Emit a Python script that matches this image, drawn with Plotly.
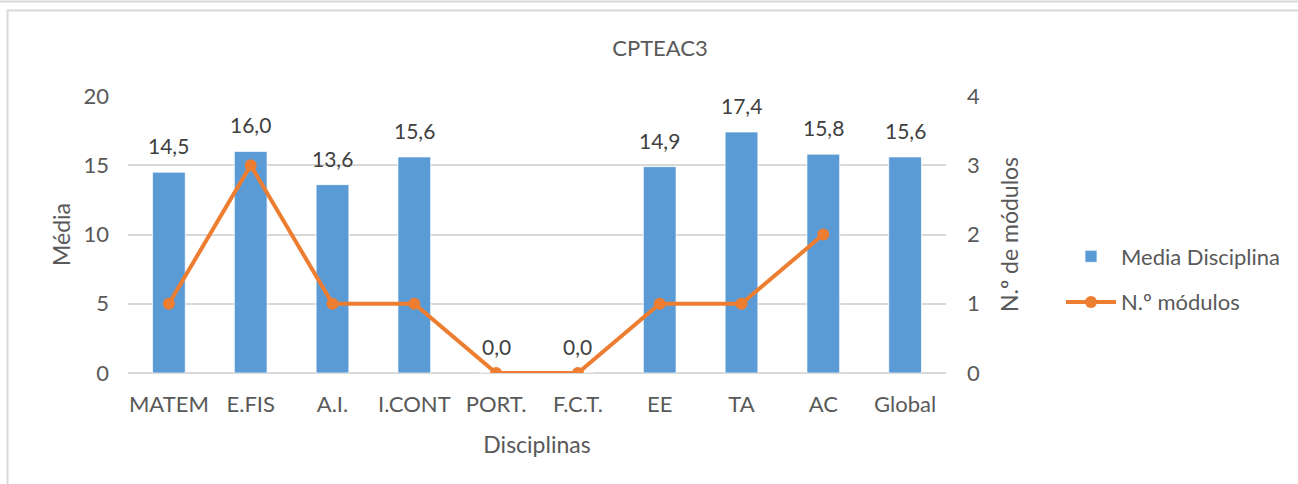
import plotly.graph_objects as go

categories = ["MATEM", "E.FIS", "A.I.", "I.CONT", "PORT.", "F.C.T.", "EE", "TA", "AC", "Global"]
media = [14.5, 16.0, 13.6, 15.6, 0.0, 0.0, 14.9, 17.4, 15.8, 15.6]
modulos = [1, 3, 1, 1, 0, 0, 1, 1, 2, None]

FONT = "Lato"
TXT = "#595959"
BLUE = "#5B9BD5"
ORANGE = "#ED7D31"
GRID = "#D9D9D9"

fig = go.Figure()
fig.add_trace(go.Bar(
    x=categories, y=media, name="Media Disciplina", legendgroup="a",
    marker=dict(color=BLUE, line=dict(color="rgba(255,255,255,0.7)", width=1)),
    width=0.4, yaxis="y",
))
fig.add_trace(go.Scatter(
    x=categories, y=modulos, name="N.º módulos", yaxis="y2", legendgroup="b",
    mode="lines+markers", line=dict(color=ORANGE, width=4),
    marker=dict(color=ORANGE, size=12), connectgaps=False,
))

annotations = []
for c, v in zip(categories, media):
    annotations.append(dict(
        x=c, y=v, xref="x", yref="y", text=f"{v:.1f}".replace(".", ","),
        showarrow=False, yanchor="bottom", yshift=12,
        font=dict(family=FONT, size=21, color="#404040"),
    ))

L, R, T, B = 128, 946, 96, 373
W, H = 1298, 484
def px(x):
    return (x - L) / (R - L)
def py(y):
    return (B - y) / (B - T)

shapes = [
    dict(type="line", xref="paper", yref="paper", x0=px(-5), x1=px(1310), y0=py(1.5), y1=py(1.5),
         line=dict(color=GRID, width=2)),
    dict(type="rect", xref="paper", yref="paper", x0=px(7.5), x1=px(1320), y0=py(10.5), y1=py(500),
         line=dict(color=GRID, width=2), fillcolor="rgba(0,0,0,0)"),
]

fig.update_layout(
    width=W, height=H,
    margin=dict(l=L, r=W - R, t=T, b=H - B, autoexpand=False),
    paper_bgcolor="white", plot_bgcolor="white",
    font=dict(family=FONT, size=22, color=TXT),
    title=dict(text="CPTEAC3", x=660 / W, xref="container", y=1 - 48 / H, yref="container",
               xanchor="center", yanchor="middle", font=dict(family=FONT, size=22, color=TXT)),
    bargap=0.6,
    xaxis=dict(
        title=dict(text="Disciplinas", standoff=20, font=dict(size=23, color=TXT)),
        range=[-0.5, len(categories) - 0.5],
        showgrid=False, showline=False, zeroline=False, ticks="", automargin=False,
        ticklabelstandoff=16, tickfont=dict(size=22, color=TXT),
    ),
    yaxis=dict(
        title=dict(text="Média", standoff=6, font=dict(size=23, color=TXT)),
        range=[0, 20], dtick=5, showgrid=True, gridcolor=GRID, gridwidth=2, automargin=False,
        zeroline=True, zerolinecolor=GRID, zerolinewidth=2, showline=False,
        ticks="", ticklabelstandoff=18, tickfont=dict(size=22, color=TXT),
    ),
    yaxis2=dict(
        title=dict(text="N.º de módulos", standoff=22, font=dict(size=23, color=TXT)),
        range=[0, 4], dtick=1, overlaying="y", side="right", showgrid=False, automargin=False,
        zeroline=False, showline=False, ticks="", ticklabelstandoff=20,
        tickfont=dict(size=22, color=TXT),
    ),
    legend=dict(x=1061 / W, xref="container", y=1 - 279.5 / H, yref="container",
                yanchor="middle", xanchor="left",
                font=dict(size=22, color=TXT), itemwidth=50, tracegroupgap=14,
                bgcolor="rgba(0,0,0,0)"),
    annotations=annotations,
    shapes=shapes,
    separators=", ",
)

fig.write_html("out.html", config={"displayModeBar": False},
               post_script="document.body.style.margin='0';document.body.style.overflow='hidden';")
